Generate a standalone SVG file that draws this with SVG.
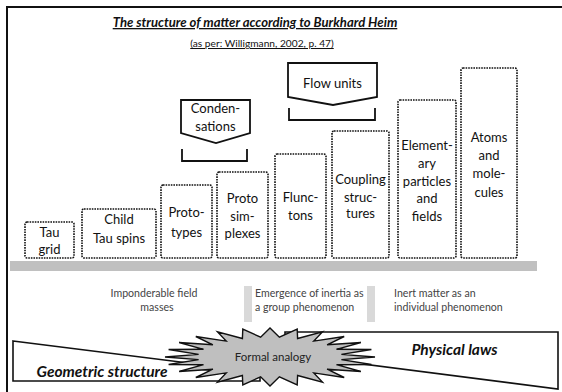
<svg xmlns="http://www.w3.org/2000/svg" width="562" height="392" viewBox="0 0 562 392">
<style>
.box{fill:#fff;stroke:#111;stroke-width:1.6;stroke-dasharray:1.6 1;}
.lbl{font-family:Lato,"Liberation Sans",sans-serif;font-size:13px;fill:#111;text-anchor:middle;}
.note{font-family:Lato,"Liberation Sans",sans-serif;font-size:10.6px;fill:#444;}
.tag{fill:#fff;stroke:#111;stroke-width:1.8;stroke-linejoin:miter;}
.brk{fill:none;stroke:#111;stroke-width:1.8;}
.big{font-family:Lato,"Liberation Sans",sans-serif;font-weight:bold;font-style:italic;fill:#111;}
</style>
<rect width="562" height="392" fill="#fff"/>
<path d="M7,392 V7 H562" fill="none" stroke="#111" stroke-width="2"/>
<g id="title">
<text x="255" y="27" class="big" font-size="13.1" text-anchor="middle" text-decoration="underline">The structure of matter according to Burkhard Heim</text>
<text x="262" y="47" font-family="Lato,'Liberation Sans',sans-serif" font-size="10.2" fill="#111" text-anchor="middle" text-decoration="underline">(as per: Willigmann, 2002, p. 47)</text>
</g>
<rect x="10" y="261" width="527" height="10" fill="#c0c0c0"/>
<g id="tau-grid"><rect class="box" x="25" y="222" width="49" height="36" rx="2"/><text class="lbl" x="49.5" y="236.5">Tau</text><text class="lbl" x="49.5" y="254">grid</text></g>
<g id="child-tau"><rect class="box" x="82" y="209" width="74" height="49" rx="2"/><text class="lbl" x="119" y="223.5">Child</text><text class="lbl" x="119" y="242.5">Tau spins</text></g>
<g id="prototypes"><rect class="box" x="161" y="185" width="51" height="73" rx="2"/><text class="lbl" x="186.5" y="216.5">Proto-</text><text class="lbl" x="186.5" y="236.5">types</text></g>
<g id="protosimplexes"><rect class="box" x="217" y="172" width="51" height="86" rx="2"/><text class="lbl" x="242.5" y="202.5">Proto</text><text class="lbl" x="242.5" y="220.5">sim-</text><text class="lbl" x="242.5" y="237.5">plexes</text></g>
<g id="fluncons"><rect class="box" x="275" y="154" width="51" height="104" rx="2"/><text class="lbl" x="300.5" y="201.5">Flunc-</text><text class="lbl" x="300.5" y="219.5">tons</text></g>
<g id="coupling"><rect class="box" x="332" y="131" width="57" height="127" rx="2"/><text class="lbl" x="360.5" y="183.5">Coupling</text><text class="lbl" x="360.5" y="201.5">struc-</text><text class="lbl" x="360.5" y="217.5">tures</text></g>
<g id="elementary"><rect class="box" x="398" y="100" width="58" height="158" rx="2"/><text class="lbl" x="427" y="149.5">Element-</text><text class="lbl" x="427" y="167.5">ary</text><text class="lbl" x="427" y="185.5">particles</text><text class="lbl" x="427" y="202.5">and</text><text class="lbl" x="427" y="220.5">fields</text></g>
<g id="atoms"><rect class="box" x="461" y="68" width="56" height="190" rx="2"/><text class="lbl" x="489" y="141.5">Atoms</text><text class="lbl" x="489" y="159.5">and</text><text class="lbl" x="489" y="177.5">mole-</text><text class="lbl" x="489" y="196.5">cules</text></g>
<g id="condensations"><polygon class="tag" points="181,100 250,100 250,133 216,143 181,133"/><text class="lbl" x="215.5" y="112.5">Conden-</text><text class="lbl" x="215.5" y="131">sations</text></g>
<g id="flow-units"><polygon class="tag" points="288,63 377,63 377,97 333,105 288,97"/><text class="lbl" x="332.5" y="87.5">Flow units</text></g>
<g id="connectors">
<path class="brk" d="M182,149 V161 H247 V149"/>
<path class="brk" d="M289,108 V120 H375 V108"/>
</g>
<g id="phases">
<rect x="244" y="286" width="8" height="36" fill="#d9d9d9"/>
<rect x="367" y="286" width="8" height="36" fill="#d9d9d9"/>
<text class="note" x="154" y="296.5" text-anchor="middle">Imponderable field</text>
<text class="note" x="157" y="310.5" text-anchor="middle">masses</text>
<text class="note" x="255" y="296.5">Emergence of inertia as</text>
<text class="note" x="255" y="310.5">a group phenomenon</text>
<text class="note" x="394" y="296.5">Inert matter as an</text>
<text class="note" x="394" y="310.5">individual phenomenon</text>
</g>
<g id="geometric">
<polygon points="13,341 260,372 260,381 13,381" fill="#fff" stroke="#111" stroke-width="1.6"/>
<text class="big" x="102" y="377" font-size="15.5" text-anchor="middle">Geometric structure</text>
</g>
<g id="physical">
<polygon points="285,332 558,332 558,389 285,354" fill="#fff" stroke="#111" stroke-width="1.6"/>
<text class="big" x="454.5" y="355" font-size="15.5" text-anchor="middle">Physical laws</text>
</g>
<g id="formal-analogy">
<polygon fill="#bfbfbf" stroke="#111" stroke-width="1.4" stroke-linejoin="miter" points="375,357 341.4,359.6 371.4,364.5 336.5,364.7 360.9,371.5 327.1,369.2 344.2,377.5 313.8,372.9 322.5,382.1 297.6,375.5 297.2,385 279.4,376.8 270,386 260.6,376.8 242.8,385 242.4,375.5 217.5,382.1 226.2,372.9 195.8,377.5 212.9,369.2 179.1,371.5 203.5,364.7 168.6,364.5 198.6,359.6 165,357 198.6,354.4 168.6,349.5 203.5,349.3 179.1,342.5 212.9,344.8 195.8,336.5 226.2,341.1 217.5,331.9 242.4,338.5 242.8,329 260.6,337.2 270,328 279.4,337.2 297.2,329 297.6,338.5 322.5,331.9 313.8,341.1 344.2,336.5 327.1,344.8 360.9,342.5 336.5,349.3 371.4,349.5 341.4,354.4"/>
<text font-family="Lato,'Liberation Sans',sans-serif" font-size="11.5" fill="#222" text-anchor="middle" x="273" y="361">Formal analogy</text>
</g>
</svg>
